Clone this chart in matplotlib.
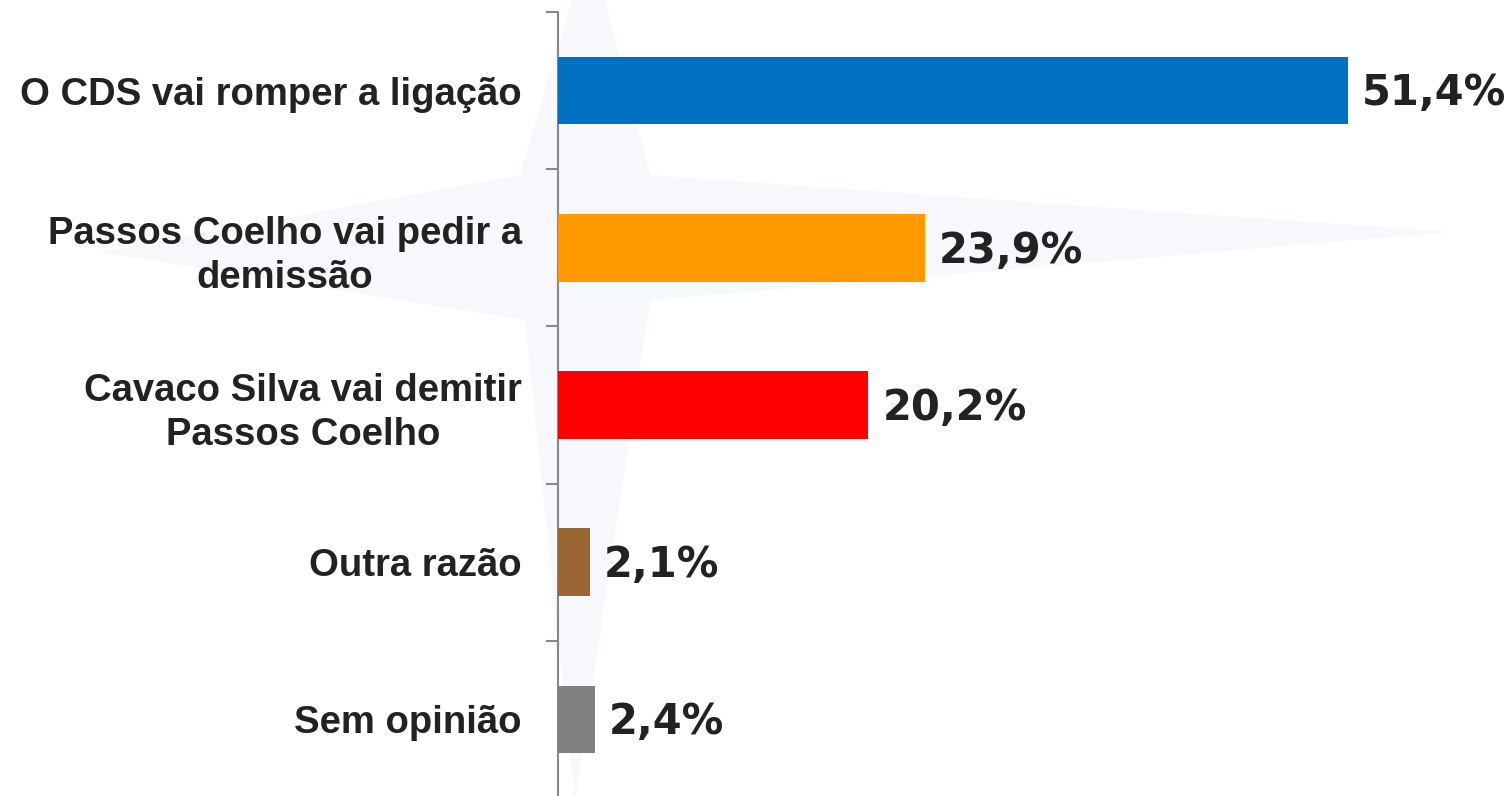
import matplotlib
matplotlib.use('Agg')
import matplotlib.pyplot as plt
from matplotlib.patches import Polygon
import numpy as np

# dados
categorias = ['O CDS vai romper a ligação',
              'Passos Coelho vai pedir a\ndemissão',
              'Cavaco Silva vai demitir\nPassos Coelho',
              'Outra razão',
              'Sem opinião']
valores = [51.4, 23.9, 20.2, 2.1, 2.4]
rotulos = ['51,4%', '23,9%', '20,2%', '2,1%', '2,4%']
cores = ['#0070c0', '#ff9900', '#ff0000', '#996633', '#808080']

W, H = 1509, 796
fig = plt.figure(figsize=(W / 100, H / 100), dpi=100)

# estrela de fundo (marca de água)
bg = fig.add_axes([0, 0, 1, 1], zorder=0)
bg.set_xlim(0, W)
bg.set_ylim(H, 0)
bg.axis('off')
estrela = [(590, -60), (650, 175), (1450, 232), (650, 300),
           (575, 800), (525, 320), (100, 252), (520, 175)]
bg.add_patch(Polygon(estrela, closed=True, facecolor='#f6f8fc',
                     edgecolor='none'))

ax = fig.add_axes([558 / W, -2 / H, (W - 558) / W, 786 / H], zorder=1)
ax.patch.set_alpha(0)

y = np.arange(len(categorias))
ax.barh(y, valores, height=0.43, color=cores, zorder=3)

for yi, v, r in zip(y, valores, rotulos):
    ax.annotate(r, (v, yi), xytext=(10, -2), textcoords='offset points',
                ha='left', va='center', fontsize=30, fontweight='bold',
                color='#222222', family='DejaVu Sans')

ax.set_ylim(len(categorias) - 0.5, -0.5)
ax.set_xlim(0, (W - 558) / 15.37)

ax.set_yticks(y)
ax.set_yticklabels(categorias, fontsize=27.5, fontweight='bold',
                   family='Liberation Sans', color='#222222',
                   multialignment='center', linespacing=1.3)
ax.tick_params(axis='y', which='major', length=0, pad=26)
ax.set_yticks(np.arange(-0.5, len(categorias) + 0.5, 1), minor=True)
ax.tick_params(axis='y', which='minor', length=9, width=1.5, color='#888888')
ax.set_xticks([])

for s in ['top', 'right', 'bottom']:
    ax.spines[s].set_visible(False)
ax.spines['left'].set_color('#888888')
ax.spines['left'].set_linewidth(1.5)

fig.savefig('out.png', dpi=100)
